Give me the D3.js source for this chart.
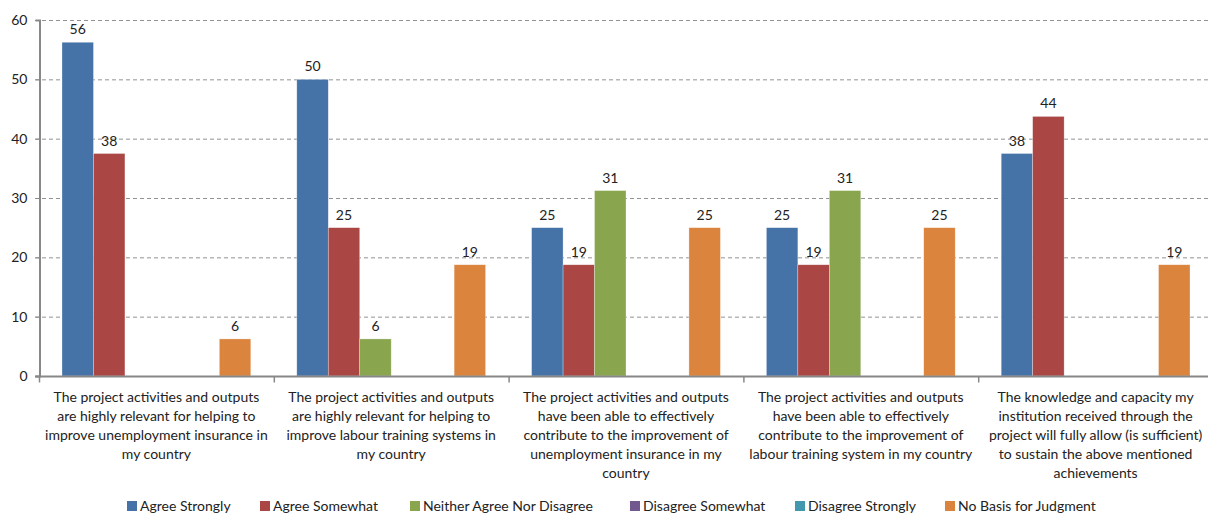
<!DOCTYPE html>
<html>
<head>
<meta charset="utf-8">
<script src="https://cdn.jsdelivr.net/npm/d3@7"></script>
<style>
  body { margin: 0; background: #fff; }
  svg { display: block; font-family: Lato, "Open Sans", sans-serif; }
</style>
</head>
<body>
<svg id="chart" width="1208" height="514"></svg>
<script>
const categories = [
  ["The project activities and outputs", "are highly relevant for helping to", "improve unemployment insurance in", "my country"],
  ["The project activities and outputs", "are highly relevant for helping to", "improve labour training systems  in", "my country"],
  ["The project activities and outputs", "have been able to effectively", "contribute to the improvement of", "unemployment insurance in my", "country"],
  ["The project activities and outputs", "have been able to effectively", "contribute to the improvement of", "labour training system in my country"],
  ["The knowledge and capacity my", "institution received through the", "project will fully allow (is sufficient)", "to sustain the above mentioned", "achievements"]
];
const seriesNames = ["Agree Strongly", "Agree Somewhat", "Neither Agree Nor Disagree", "Disagree Somewhat", "Disagree Strongly", "No Basis for Judgment"];
const agreeStrongly   = [56.25, 50, 25, 25, 37.5];
const agreeSomewhat   = [37.5, 25, 18.75, 18.75, 43.75];
const neither         = [0, 6.25, 31.25, 31.25, 0];
const disagreeSome    = [0, 0, 0, 0, 0];
const disagreeStrong  = [0, 0, 0, 0, 0];
const noBasis         = [6.25, 18.75, 25, 25, 18.75];
const yTicks = [0, 10, 20, 30, 40, 50, 60];
const colors = ["#4572A7", "#AA4643", "#89A54E", "#71588F", "#4198AF", "#DB843D"];

const values = [agreeStrongly, agreeSomewhat, neither, disagreeSome, disagreeStrong, noBasis];

const plotLeft = 39, plotRight = 1213, plotTop = 20, plotBottom = 376;
const fontSize = 14;
const svg = d3.select("#chart");

const x0 = d3.scaleBand().domain(d3.range(categories.length)).range([plotLeft, plotRight]).padding(0);
const x1 = d3.scaleBand().domain(d3.range(seriesNames.length))
  .range([23, x0.bandwidth() - 23]).padding(0);
const y = d3.scaleLinear().domain([0, 60]).range([plotBottom, plotTop]);

// grid lines
svg.append("g").selectAll("line")
  .data(yTicks.filter(t => t > 0))
  .enter().append("line")
  .attr("x1", plotLeft - 4).attr("x2", 1208)
  .attr("y1", d => y(d) + 0.5).attr("y2", d => y(d) + 0.5)
  .attr("stroke", "#929292").attr("stroke-dasharray", "4,3");

// y axis
const yAxis = d3.axisLeft(y).tickValues(yTicks).tickSize(4).tickPadding(8);
const gy = svg.append("g").attr("transform", `translate(${plotLeft + 0.5},0)`).call(yAxis);
gy.select(".domain").attr("stroke", "#888").attr("stroke-width", 2);
gy.selectAll(".tick line").attr("stroke", "#888");
gy.selectAll(".tick text").attr("font-size", fontSize).attr("fill", "#222").attr("font-family", "Lato, sans-serif");

// bars
const groups = svg.append("g").selectAll("g")
  .data(categories.map((c, i) => i))
  .enter().append("g")
  .attr("transform", i => `translate(${x0(i)},0)`);

groups.selectAll("rect")
  .data(i => values.map((s, k) => ({ k, v: s[i] })).filter(d => d.v > 0))
  .enter().append("rect")
  .attr("x", d => x1(d.k))
  .attr("width", x1.bandwidth())
  .attr("y", d => y(d.v))
  .attr("height", d => y(0) - y(d.v))
  .attr("fill", d => colors[d.k])
  .attr("stroke", "#fff").attr("stroke-opacity", 0.5).attr("stroke-width", 0.6);

groups.selectAll("text.val")
  .data(i => values.map((s, k) => ({ k, v: s[i] })).filter(d => d.v > 0))
  .enter().append("text")
  .attr("class", "val")
  .attr("x", d => x1(d.k) + x1.bandwidth() / 2)
  .attr("y", d => y(d.v) - 8)
  .attr("text-anchor", "middle")
  .attr("font-size", fontSize).attr("fill", "#222")
  .text(d => d3.format(".0f")(d.v));

// x axis
const gx = svg.append("g").attr("transform", `translate(0,${plotBottom + 0.5})`);
gx.append("line").attr("x1", plotLeft - 4).attr("x2", 1208).attr("stroke", "#888").attr("stroke-width", 2);
gx.selectAll("line.tk")
  .data(d3.range(categories.length))
  .enter().append("line").attr("class", "tk")
  .attr("x1", i => x0(i) + 0.5).attr("x2", i => x0(i) + 0.5)
  .attr("y1", 0).attr("y2", 6).attr("stroke", "#888").attr("stroke-width", 1.5);

const labels = svg.append("g").selectAll("text")
  .data(categories)
  .enter().append("text")
  .attr("text-anchor", "middle")
  .attr("font-size", fontSize).attr("fill", "#222");
labels.each(function (lines, i) {
  d3.select(this).selectAll("tspan")
    .data(lines).enter().append("tspan")
    .attr("x", x0(i) + x0.bandwidth() / 2)
    .attr("y", (d, j) => 402 + j * 19)
    .text(d => d);
});

// legend
const legendX = [127, 260, 410, 630, 795, 945];
const leg = svg.append("g").selectAll("g")
  .data(seriesNames)
  .enter().append("g")
  .attr("transform", (d, i) => `translate(${legendX[i]},501)`);
leg.append("rect").attr("width", 10).attr("height", 10).attr("fill", (d, i) => colors[i]);
leg.append("text").attr("x", 13).attr("y", 10).attr("font-size", fontSize).attr("fill", "#222").text(d => d);
</script>
</body>
</html>
